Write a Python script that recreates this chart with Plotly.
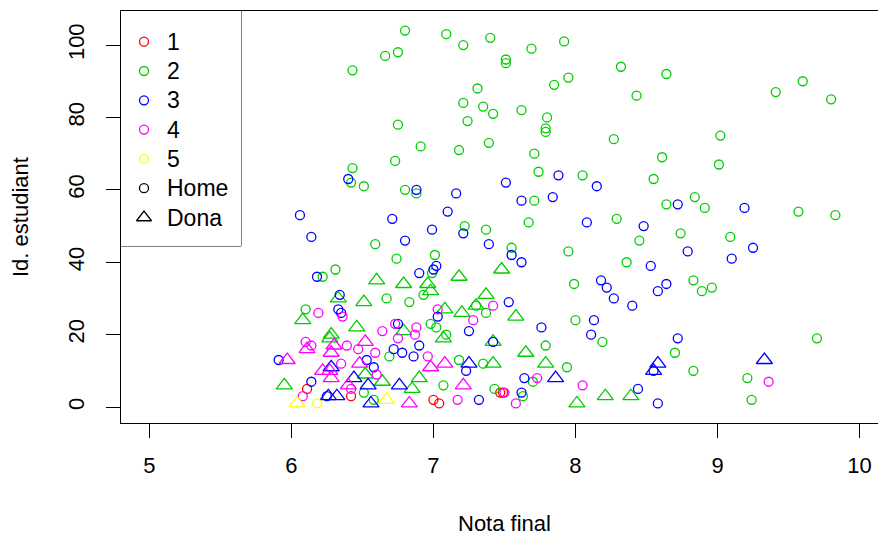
import plotly.graph_objects as go

# ---- data (Nota final, Id. estudiant) per grup / sexe ----
nota_g1_home = [6.42, 6.11, 7.00, 7.04, 7.47, 7.49]
id_g1_home = [3, 5, 2, 1, 4, 4]

nota_g2_home = [6.43, 6.43, 6.42, 6.51, 6.80, 7.09, 6.66, 6.75, 7.21, 7.40, 7.51, 7.51, 7.69, 7.92, 8.32,
                7.31, 7.95, 7.85, 7.21, 7.35, 7.42, 7.62, 7.24, 6.75, 7.80, 7.79, 7.79, 8.27, 6.91, 7.18,
                7.39, 7.71, 6.73, 7.74, 8.05, 6.80, 6.88, 7.71, 8.64, 8.43, 9.41, 9.60, 9.80, 9.02, 8.61,
                9.01, 8.55, 8.64, 8.84, 8.91, 9.57, 9.83, 7.67, 8.29, 8.74, 8.45, 7.55, 7.95, 8.36, 7.99,
                8.83, 8.89, 8.96, 8.00, 8.19, 7.79, 7.94, 7.70, 7.63, 8.70, 8.83, 9.09, 9.70, 9.21, 9.24,
                7.22, 7.37, 6.59, 7.01, 6.74, 6.99, 6.31, 6.22, 6.67, 6.83, 6.93, 7.37, 6.10, 6.98, 7.02,
                7.09, 6.69, 7.18, 7.35, 7.07, 7.43, 6.51, 6.58, 7.30]
id_g2_home = [93, 66, 62, 61, 104, 103, 97, 98, 100, 102, 96, 95, 99, 101, 94,
              88, 91, 89, 84, 83, 81, 82, 79, 78, 80, 77, 76, 74, 72, 71,
              73, 70, 68, 65, 64, 60, 59, 57, 92, 86, 87, 90, 85, 75, 69,
              67, 63, 56, 58, 55, 54, 53, 51, 52, 48, 46, 44, 43, 40, 34,
              35, 32, 33, 24, 18, 17, 11, 7, 3, 15, 10, 47, 19, 8, 2,
              50, 49, 45, 42, 41, 37, 38, 36, 30, 29, 31, 26, 27, 23, 22,
              20, 14, 13, 12, 6, 5, 4, 2, 28]

nota_g2_dona = [7.48, 7.58, 7.65, 7.79, 8.01, 8.21, 8.39, 6.60, 6.79, 6.96, 6.98, 7.18, 6.51, 6.33, 7.08,
                7.20, 7.30, 7.37, 6.46, 6.28, 6.27, 6.79, 7.07, 7.42, 6.90, 7.42, 6.52, 6.64, 6.08, 5.95,
                6.85]
id_g2_dona = [38, 25, 15, 12, 1, 3, 3, 35, 34, 34, 32, 36, 29, 30, 27,
              26, 28, 31, 22, 20, 19, 21, 19, 18, 8, 12, 9, 7, 24, 6,
              5]

nota_g3_home = [6.40, 6.06, 7.88, 8.15, 7.51, 6.88, 7.16, 7.62, 7.84, 7.10, 8.72, 9.19, 8.08, 8.48, 8.79,
                7.55, 7.62, 8.53, 8.18, 8.22, 8.27, 8.40, 8.64, 8.58, 7.53, 8.13, 8.11, 7.76, 7.64, 7.62,
                8.44, 8.58, 8.55, 8.72, 9.25, 9.10, 6.71, 7.21, 6.99, 6.80, 7.39, 6.14, 7.02, 7.00, 6.90,
                6.18, 6.34, 6.33, 6.35, 7.03, 6.75, 7.25, 7.42, 6.72, 6.78, 6.86, 6.90, 7.23, 6.53, 6.58,
                6.25, 7.32, 5.91, 6.14]
id_g3_home = [63, 53, 64, 61, 62, 60, 59, 57, 58, 54, 56, 55, 51, 50, 43,
              42, 40, 39, 35, 33, 30, 28, 34, 32, 29, 24, 20, 22, 8, 4,
              5, 1, 10, 19, 44, 41, 52, 48, 49, 46, 45, 47, 39, 38, 37,
              36, 31, 27, 26, 25, 23, 21, 18, 16, 15, 14, 17, 10, 13, 11,
              3, 2, 13, 7]

nota_g3_dona = [7.86, 8.58, 8.55, 9.33, 7.25, 6.28, 6.44, 6.54, 6.76, 6.56, 6.26, 6.32]
id_g3_dona = [8, 12, 10, 13, 12, 11, 8, 6, 6, 1, 3, 3]

nota_g4_home = [8.05, 7.73, 7.58, 7.50, 9.36, 6.19, 6.36, 7.03, 7.28, 7.42, 6.73, 6.88, 6.87, 6.64, 6.75,
                6.39, 6.47, 6.59, 6.96, 6.35, 6.60, 7.17, 6.14, 6.10, 6.08, 6.42]
id_g4_home = [6, 8, 1, 4, 7, 26, 25, 27, 24, 28, 23, 22, 20, 21, 19,
              17, 16, 15, 14, 12, 9, 2, 17, 18, 3, 5]

nota_g4_dona = [6.28, 6.52, 7.08, 6.98, 7.21, 6.22, 6.27, 6.48, 6.40, 6.83, 6.11, 5.97, 6.30, 6.28]
id_g4_dona = [15, 18, 12, 11, 6, 10, 10, 12, 6, 1, 16, 13, 17, 8]

nota_g5_home = [6.18]
id_g5_home = [1]
nota_g5_dona = [6.04, 6.67]
id_g5_dona = [1, 2]

grups = ["1", "2", "3", "4", "5"]
colors = ["#FF0000", "#00CD00", "#0000FF", "#FF00FF", "#FFFF00"]
sexes = ["Home", "Dona"]
x_ticks = [5, 6, 7, 8, 9, 10]
y_ticks = [0, 20, 40, 60, 80, 100]

series = [
    (0, nota_g1_home, id_g1_home, "circle-open"),
    (1, nota_g2_home, id_g2_home, "circle-open"),
    (1, nota_g2_dona, id_g2_dona, "triangle-up-open"),
    (2, nota_g3_home, id_g3_home, "circle-open"),
    (2, nota_g3_dona, id_g3_dona, "triangle-up-open"),
    (3, nota_g4_home, id_g4_home, "circle-open"),
    (3, nota_g4_dona, id_g4_dona, "triangle-up-open"),
    (4, nota_g5_home, id_g5_home, "circle-open"),
    (4, nota_g5_dona, id_g5_dona, "triangle-up-open"),
]

FONT = "Liberation Sans, Arial, sans-serif"
CIRC = 9
TRI = 14
LW = 1.3

# geometry (pixels)
W, H = 878, 536
L, R, T, B = 121, 0, 11, 113
PW, PH = W - L - R, H - T - B
LEG_R, LEG_B = 241, 246          # legend box right / bottom edge
LEG_Y0, LEG_DY = 41.7, 29.3      # first legend row centre, row spacing

fig = go.Figure()

for gi, xs, ys, sym in series:
    c = colors[gi]
    fig.add_trace(go.Scatter(
        x=xs, y=ys, mode="markers", showlegend=False, hoverinfo="skip",
        marker=dict(symbol=sym, size=CIRC if sym == "circle-open" else TRI, color=c,
                    line=dict(width=LW, color=c)),
    ))

# ---- custom legend on its own small axis pair (row index on y) ----
leg_labels = grups + sexes
leg_colors = colors + ["black", "black"]
leg_symbols = ["circle-open"] * 5 + ["circle-open", "triangle-up-open"]
rows = list(range(len(leg_labels)))
for lab, c, sym, r in zip(leg_labels, leg_colors, leg_symbols, rows):
    fig.add_trace(go.Scatter(
        x=[23], y=[r], xaxis="x2", yaxis="y2", mode="markers", showlegend=False, hoverinfo="skip",
        marker=dict(symbol=sym, size=CIRC if sym == "circle-open" else TRI - 1, color=c,
                    line=dict(width=LW, color=c)),
    ))

annotations = [
    dict(text=lab, xref="x2", yref="y2", x=44, y=r, xanchor="left", yanchor="middle",
         showarrow=False, font=dict(size=23, family=FONT, color="black"))
    for lab, r in zip(leg_labels, rows)
]
annotations += [
    dict(text="Nota final", xref="paper", yref="paper", x=(504 - L) / PW, y=0, xanchor="center",
         yanchor="middle", yshift=-(523 - (H - B)), showarrow=False, font=dict(size=22)),
    dict(text="Id. estudiant", xref="paper", yref="paper", x=0, y=0.5, xanchor="center",
         yanchor="middle", xshift=-(L - 20), textangle=-90, showarrow=False, font=dict(size=22)),
]

leg_dom_x = [0, (LEG_R - L) / PW]
leg_dom_y = [((H - B) - LEG_B) / PH, 1]
y2_top = (T - LEG_Y0) / LEG_DY
y2_bot = (LEG_B - LEG_Y0) / LEG_DY

fig.update_layout(
    width=W, height=H,
    margin=dict(l=L, r=R, t=T, b=B),
    plot_bgcolor="white", paper_bgcolor="white",
    font=dict(family=FONT, size=22, color="black"),
    showlegend=False,
    hovermode=False,
    xaxis=dict(range=[4.8, 10.13], tickvals=x_ticks, ticks="outside", ticklen=14, tickcolor="black",
               showline=True, mirror=True, linecolor="black", linewidth=1, showgrid=False, zeroline=False,
               tickfont=dict(size=22), ticklabelstandoff=9),
    yaxis=dict(range=[-4.4, 109.4], tickvals=y_ticks, ticks="outside", ticklen=14, tickcolor="black",
               tickangle=-90, showline=True, mirror=False, linecolor="black", linewidth=1,
               showgrid=False, zeroline=False, tickfont=dict(size=22), ticklabelstandoff=13),
    xaxis2=dict(domain=leg_dom_x, range=[0, LEG_R - L], visible=False, anchor="y2", fixedrange=True),
    yaxis2=dict(domain=leg_dom_y, range=[y2_bot, y2_top], visible=False, anchor="x2", fixedrange=True),
    shapes=[dict(type="rect", xref="paper", yref="paper", x0=leg_dom_x[0], x1=leg_dom_x[1],
                 y0=leg_dom_y[0], y1=leg_dom_y[1], line=dict(color="black", width=1),
                 fillcolor="white", layer="below")],
    annotations=annotations,
)

fig.write_html("out.html", config={"displayModeBar": False, "staticPlot": True},
               post_script="document.body.style.margin='0px';document.body.style.padding='0px';")
